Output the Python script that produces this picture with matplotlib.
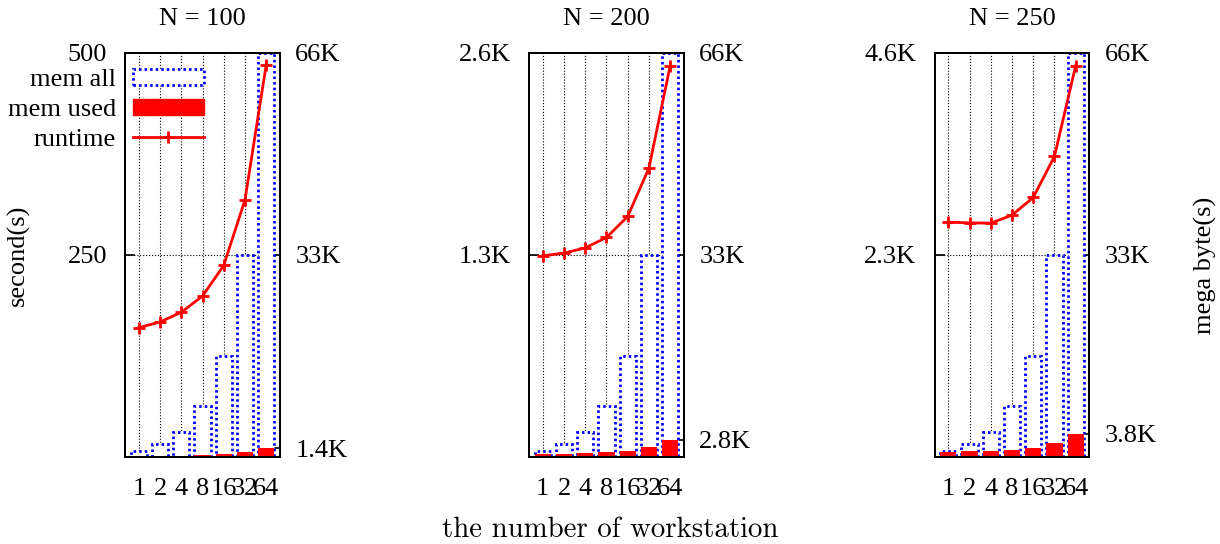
"""
Runtime and memory vs. number of workstations, three problem sizes.
"""

import numpy as np
import matplotlib
matplotlib.use("Agg")
import matplotlib.pyplot as plt
from matplotlib.patches import Patch
from matplotlib.lines import Line2D

plt.rcParams.update({
    "font.family": "Liberation Serif",
    "font.size": 19,
    "axes.linewidth": 1.4,
})

# --- data ---
workstations = ["1", "2", "4", "8", "16", "32", "64"]
titles = ["N = 100", "N = 200", "N = 250"]

runtime_n100 = [160, 167, 179, 199, 237, 318, 485]
runtime_n200 = [1294, 1311, 1345, 1412, 1547, 1858, 2515]
runtime_n250 = [2672, 2664, 2661, 2752, 2953, 3420, 4452]

mem_all = [1030, 2060, 4125, 8250, 16500, 33000, 66000]
mem_used_n100 = [50, 80, 150, 300, 500, 800, 1400]
mem_used_n200 = [450, 500, 600, 750, 1050, 1600, 2800]
mem_used_n250 = [870, 900, 1000, 1200, 1500, 2200, 3800]

sec_max = [500, 2600, 4600]
sec_ticks = [[250, 500], [1300, 2600], [2300, 4600]]
sec_labels = [["250", "500"], ["1.3K", "2.6K"], ["2.3K", "4.6K"]]

mb_max = 66000
mb_ticks = [[1400, 33000, 66000], [2800, 33000, 66000], [3800, 33000, 66000]]
mb_labels = [["1.4K", "33K", "66K"], ["2.8K", "33K", "66K"], ["3.8K", "33K", "66K"]]

runtimes = [runtime_n100, runtime_n200, runtime_n250]
mem_used = [mem_used_n100, mem_used_n200, mem_used_n250]

BLUE = "#0000ff"
RED = "#ff0000"
DOTS = (0, (0.9, 1.1))

fig = plt.figure(figsize=(12.2, 5.44), dpi=100)
lefts = [0.1025, 0.4336, 0.766]
x = np.arange(1, len(workstations) + 1)
width = 0.76

for i in range(3):
    # main axes: memory bars (right side scale)
    ax = fig.add_axes([lefts[i], 0.160, 0.127, 0.743])
    ax.set_xlim(0.35, 7.65)
    ax.set_ylim(0, mb_max)
    ax.bar(x, mem_all, width, facecolor="white", edgecolor=BLUE,
           linestyle=DOTS, linewidth=2.0, zorder=2)
    ax.bar(x, mem_used[i], width, color=RED, linewidth=0, zorder=3)
    ax.axhline(mb_ticks[i][1], color="black", linestyle=":", linewidth=0.8, zorder=1)
    ax.set_xticks(x)
    ax.set_xticklabels(workstations)
    ax.grid(axis="x", color="black", linestyle=":", linewidth=0.8, zorder=0)
    ax.set_axisbelow(True)
    ax.tick_params(axis="x", length=0, pad=15)
    ax.set_title(titles[i], pad=20, fontsize=19)

    # twin axes: runtime line (left side scale)
    ax2 = ax.twinx()
    ax2.yaxis.tick_left()
    ax2.set_ylim(0, sec_max[i])
    ax2.plot(x, runtimes[i], color=RED, linewidth=2, marker="+",
             markersize=8, markeredgewidth=2)
    ax2.set_yticks(sec_ticks[i])
    ax2.set_yticklabels(sec_labels[i])
    ax2.tick_params(axis="y", direction="in", length=7, width=1.2, pad=13)

    # memory scale on the right (twinx moves it left, so set after)
    ax.yaxis.tick_right()
    ax.set_yticks(mb_ticks[i])
    ax.set_yticklabels(mb_labels[i])
    ax.tick_params(axis="y", direction="in", length=7, width=1.2, pad=11)

    if i == 0:
        handles = [
            Patch(facecolor="white", edgecolor=BLUE, linestyle=DOTS, linewidth=2.0),
            Patch(facecolor=RED, edgecolor=RED),
            Line2D([], [], color=RED, linewidth=2, marker="+", markersize=8,
                   markeredgewidth=2),
        ]
        ax2.legend(handles, ["mem all", "mem used", "runtime"], loc="upper right",
                   bbox_to_anchor=(0.51, 0.96), bbox_transform=ax2.transAxes,
                   markerfirst=False, frameon=False, numpoints=1,
                   handlelength=2.7, handleheight=0.57, handletextpad=0.64,
                   labelspacing=0.28, borderpad=0, borderaxespad=0, fontsize=19)

fig.text(0.015, 0.531, "second(s)", rotation=90, ha="center", va="center", fontsize=19)
fig.text(0.988, 0.513, "mega byte(s)", rotation=90, ha="center", va="center", fontsize=19)
fig.text(0.5, 0.026, "the number of workstation", ha="center", va="center",
         family="cmr10", fontsize=20.8)

fig.savefig("out.png", dpi=100)
plt.close()
